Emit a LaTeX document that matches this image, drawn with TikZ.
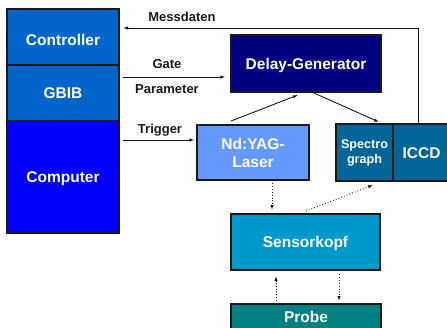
\documentclass[tikz,border=0pt]{standalone}
\usepackage{fontspec}
\setmainfont{Liberation Sans}
\usetikzlibrary{arrows.meta}
\definecolor{cctrl}{HTML}{0066CC}
\definecolor{ccomp}{HTML}{0000FF}
\definecolor{cdelay}{HTML}{000080}
\definecolor{claser}{HTML}{6699FF}
\definecolor{cspec}{HTML}{006699}
\definecolor{csens}{HTML}{0099CC}
\definecolor{cprobe}{HTML}{008080}
\definecolor{cline}{HTML}{1A1A1A}
\tikzset{
  box/.style={draw=cline, line width=1.2pt, inner sep=0pt, text=white,
    font=\bfseries\fontsize{15.5}{18}\selectfont},
  one/.style={text height=11.2pt, text depth=0pt},
  lbl/.style={anchor=base, inner sep=0pt, text=cline,
    font=\bfseries\fontsize{13}{15}\selectfont},
  arr/.style={draw=cline, line width=0.9pt, -{Latex[length=5pt,width=3.5pt]}},
  dotarr/.style={draw=cline, line width=0.9pt, dotted, -{Latex[length=5pt,width=3.5pt]}}
}
\begin{document}
\begin{tikzpicture}[x=1pt,y=-1pt]
\useasboundingbox (0,0) rectangle (447,327);
% left column
\node[box, one, text height=16.5pt, fill=cctrl, minimum width=112, minimum height=56] (ctrl) at (63,37) {Controller};
\node[box, one, fill=cctrl, minimum width=112, minimum height=56] (gbib) at (63,93) {GBIB};
\node[box, one, fill=ccomp, minimum width=112, minimum height=112] (comp) at (63,177) {Computer};
% other boxes
\node[box, one, fill=cdelay, minimum width=150, minimum height=57] (delay) at (306,63.5) {Delay-Generator};
\node[box, fill=claser, minimum width=112, minimum height=55, align=center] (laser) at (253,152.5) {Nd:YAG-\\Laser};
\node[box, fill=cspec, minimum width=57, minimum height=57, align=center,
  font=\bfseries\fontsize{12.6}{15}\selectfont] (spec) at (364.5,152.5) {Spectro\\graph};
\node[box, one, fill=cspec, minimum width=57, minimum height=57] (iccd) at (421.5,152.5) {ICCD};
\node[box, one, fill=csens, minimum width=149, minimum height=56] (sens) at (305.5,242) {Sensorkopf};
\node[box, one, fill=cprobe, minimum width=150, minimum height=26] (probe) at (306,317) {Probe};
% labels
\node[lbl] (lmess) at (182,21) {Messdaten};
\node[lbl] (lgate) at (167,68.5) {Gate};
\node[lbl] (lpar) at (167,93.5) {Parameter};
\node[lbl] (ltrig) at (160,133) {Trigger};
% Messdaten line
\coordinate (mtop) at (418,28);
\coordinate (mend) at (123,28);
\draw[arr] (iccd.north -| mtop) -- (mtop) -- (mend);
% Gate
\coordinate (gstart) at (123,77);
\draw[arr, shorten >=5pt] (gstart) -- (delay.west |- gstart);
% Trigger
\coordinate (tstart) at (123,140);
\draw[arr, shorten >=2pt] (tstart) -- (laser.west |- tstart);
% laser -> delay, delay -> spec
\coordinate (a1) at (231,121);
\coordinate (a2) at (298,95);
\draw[arr] (a1) -- (a2);
\coordinate (b1) at (314,93);
\coordinate (b2) at (379,122);
\draw[arr] (b1) -- (b2);
% dotted
\coordinate (d1) at (272,183);
\coordinate (d2) at (272,210);
\draw[dotarr] (d1) -- (d2);
\coordinate (e1) at (306,211);
\coordinate (e2) at (373,185);
\draw[dotarr] (e1) -- (e2);
\coordinate (f1) at (276,301);
\coordinate (f2) at (276,276);
\draw[dotarr] (f1) -- (f2);
\coordinate (g1) at (339,274);
\coordinate (g2) at (339,301);
\draw[dotarr] (g1) -- (g2);
\end{tikzpicture}
\end{document}
